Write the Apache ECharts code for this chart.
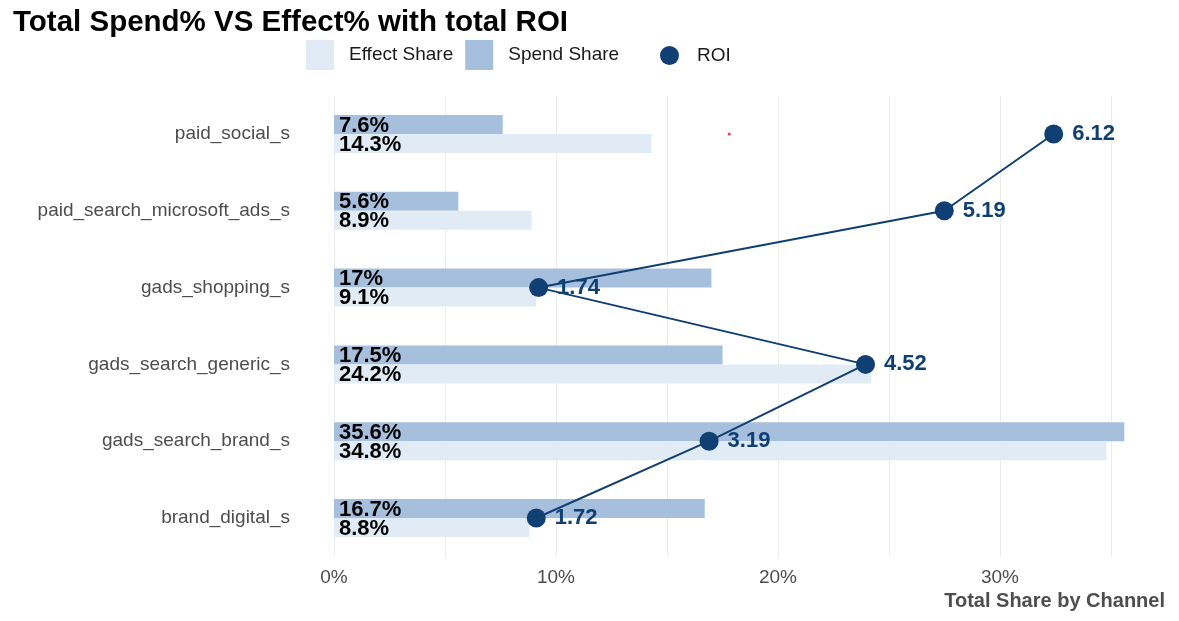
<!DOCTYPE html>
<html>
<head>
<meta charset="utf-8">
<script src="https://cdn.jsdelivr.net/npm/echarts@6/dist/echarts.min.js"></script>
<style>html,body{margin:0;padding:0;background:#fff;}#c{width:1179px;height:621px;}</style>
</head>
<body>
<div id="c"></div>
<script>
const categories = ['paid_social_s','paid_search_microsoft_ads_s','gads_shopping_s','gads_search_generic_s','gads_search_brand_s','brand_digital_s'];
const spendShare = [7.6, 5.6, 17.0, 17.5, 35.6, 16.7];
const effectShare = [14.3, 8.9, 9.1, 24.2, 34.8, 8.8];
const roi = [6.12, 5.19, 1.74, 4.52, 3.19, 1.72];
const redMark = [[17.8, 0]];
const xTicks = [0, 10, 20, 30];

const FONT = 'Liberation Sans, Arial, sans-serif';
const SHARE_MAX = 37.38;
const ROI_SCALE = 5.297; // share-% per ROI unit

const chart = echarts.init(document.getElementById('c'));
const pctLabel = p => (+p.value.toFixed(1)) + '%';
chart.setOption({
  animation: false,
  textStyle: {fontFamily: FONT},
  title: {
    text: 'Total Spend% VS Effect% with total ROI',
    left: 8, top: 3,
    textStyle: {fontSize: 29.5, fontWeight: 'bold', color: '#000', fontFamily: FONT}
  },
  legend: [{
    data: ['Effect Share', 'Spend Share'],
    left: 301, top: 35,
    itemWidth: 28, itemHeight: 30, itemGap: 12,
    icon: 'rect',
    textStyle: {fontSize: 19, color: '#1a1a1a', padding: [0, 0, 0, 10], fontFamily: FONT}
  }, {
    data: ['ROI'],
    left: 655, top: 41,
    itemWidth: 19, itemHeight: 19,
    icon: 'circle',
    textStyle: {fontSize: 19, color: '#1a1a1a', padding: [0, 0, 0, 13], fontFamily: FONT}
  }],
  graphic: [{
    type: 'text', right: 14, top: 591,
    style: {text: 'Total Share by Channel', fontSize: 20, fontWeight: 'bold', fill: '#4d4d4d', fontFamily: FONT}
  }],
  grid: {left: 334, width: 22.2 * SHARE_MAX, top: 95.6, height: 460.8, containLabel: false},
  xAxis: [{
    type: 'value', min: 0, max: SHARE_MAX, interval: 5,
    axisLine: {show: false}, axisTick: {show: false},
    splitLine: {show: true, showMaxLine: false, lineStyle: {color: '#ebebeb', width: 1}},
    axisLabel: {
      fontSize: 19, color: '#4d4d4d', margin: 12, showMaxLabel: false,
      formatter: v => xTicks.indexOf(v) >= 0 ? v + '%' : ''
    }
  }, {
    type: 'value', min: 0, max: SHARE_MAX / ROI_SCALE, show: false
  }],
  yAxis: {
    type: 'category', data: categories, inverse: true,
    axisLine: {show: false}, axisTick: {show: false}, splitLine: {show: false},
    axisLabel: {fontSize: 19, color: '#4d4d4d', margin: 44}
  },
  series: [{
    name: 'Spend Share', type: 'bar', data: spendShare, xAxisIndex: 0,
    barWidth: 19, barGap: '0%',
    itemStyle: {color: '#a5bfdd'},
    label: {show: true, position: 'insideLeft', offset: [0, 1], formatter: pctLabel,
      fontSize: 22, fontWeight: 'bold', color: '#000', fontFamily: FONT}
  }, {
    name: 'Effect Share', type: 'bar', data: effectShare, xAxisIndex: 0,
    barWidth: 19, barGap: '0%',
    itemStyle: {color: '#e1ebf5'},
    label: {show: true, position: 'insideLeft', offset: [0, 1], formatter: pctLabel,
      fontSize: 22, fontWeight: 'bold', color: '#000', fontFamily: FONT}
  }, {
    name: 'ROI', type: 'line', data: roi, xAxisIndex: 1,
    symbol: 'circle', symbolSize: 19, z: 5,
    itemStyle: {color: '#0f3f73'},
    lineStyle: {color: '#0f3f73', width: 2},
    label: {show: true, position: 'right', distance: 9, formatter: p => p.value.toFixed(2),
      fontSize: 22, fontWeight: 'bold', color: '#0f3f73', fontFamily: FONT}
  }, {
    name: 'mark', type: 'scatter', data: redMark, xAxisIndex: 0,
    symbol: 'circle', symbolSize: 3, itemStyle: {color: '#ff0000'}, z: 6, silent: true
  }]
});
</script>
</body>
</html>
